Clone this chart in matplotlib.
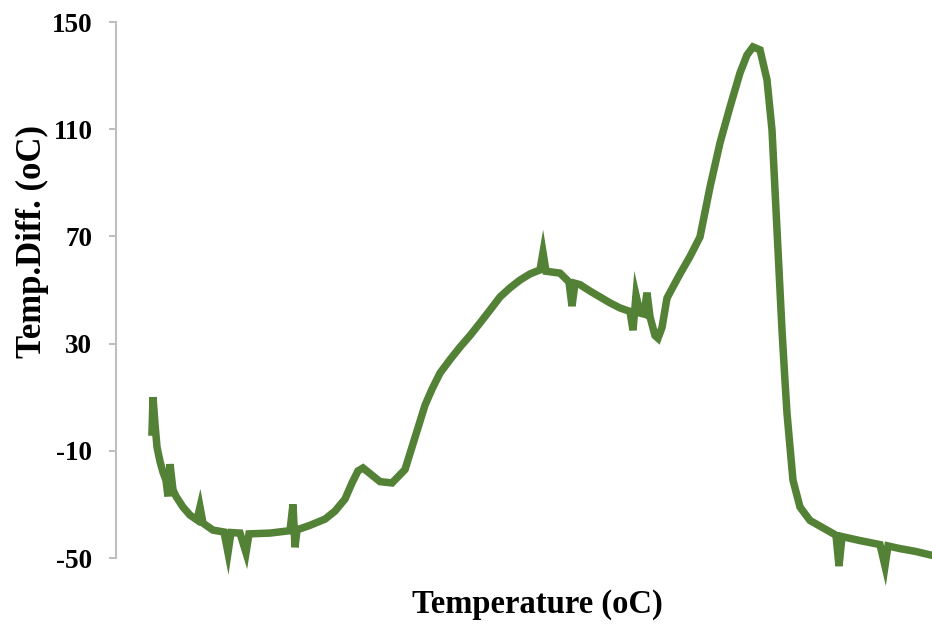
import matplotlib
matplotlib.use('Agg')
import matplotlib.pyplot as plt

plt.rcParams['axes.unicode_minus'] = False

# readings taken off the reference curve (x has no tick labels, so the scale is nominal)
temperature = [30, 30.5, 31.5, 32.5, 34, 35.5, 37, 38, 39, 40.5, 42, 45.5, 49, 52.5, 54,
               55.5, 60.5, 66, 68, 69.5, 74, 77, 78.5, 89, 99, 100.5, 101.5, 102.5, 109,
               116.5, 121.5, 126.5, 130, 133, 135.5, 139, 144, 150, 156.5, 159, 161.5,
               166.5, 170, 174, 179, 184, 189, 194, 199, 204, 209, 214, 219, 224, 225.5,
               227, 234, 238.5, 240, 241.5, 244, 249, 254, 259, 264, 269, 270.5, 272, 274,
               276, 277.5, 279, 281.5, 283, 285, 287.5, 294, 299, 304, 309, 314, 319, 324,
               327.5, 330.5, 334, 337.5, 340, 342.5, 345, 346.5, 347.5, 349, 350.5, 354,
               359, 367.5, 372, 373.5, 375, 384, 394, 396.5, 398, 404, 411.5, 420]
temp_diff = [-3, 10, 0, -8.6, -14, -18, -21, -27, -15, -24.6, -27, -31, -34, -35.8, -31,
             -37, -39.6, -40.3, -48, -40.5, -40.7, -48, -41, -40.7, -39.8, -30, -46, -39.5,
             -37.8, -35.5, -32.5, -28, -22, -17.5, -16.4, -18.5, -21.5, -22, -17, -11, -5,
             7, 13, 19, 24, 28.7, 33, 37.7, 42.5, 47.4, 50.8, 53.7, 56, 57.5, 64,
             57, 56.3, 53, 44, 52.5, 52, 49.6, 47.4, 45.2, 43.3, 42, 35, 48, 41.4,
             41, 49, 40, 33, 32, 36, 47, 56, 62.5, 69.8, 88.4, 104.9, 118.3, 131,
             137.7, 140.7, 139.6, 128.4, 109.7, 72.4, 35, 16, 4, -8.6, -21, -31,
             -36, -39.6, -41.5, -53, -42, -43.5, -45, -53, -45.5, -46.5, -47.5, -49]

y_ticks = [-50, -10, 30, 70, 110, 150]

fig = plt.figure(figsize=(9.32, 6.28), dpi=100)
ax = fig.add_axes([116 / 932, 1 - 558 / 628, 1 - 116 / 932, (558 - 22) / 628])

ax.plot(temperature, temp_diff, color='#538135', linewidth=5.4,
        solid_joinstyle='miter', clip_on=False)

ax.set_xlim(12, 420)
ax.set_ylim(-50, 150)
ax.set_yticks(y_ticks)
ax.set_xticks([])

for side in ['top', 'right', 'bottom']:
    ax.spines[side].set_visible(False)
ax.spines['left'].set_color('#bfbfbf')
ax.spines['left'].set_linewidth(1.5)
ax.tick_params(axis='y', length=5, width=1.5, color='#bfbfbf', pad=12)
for lbl in ax.get_yticklabels():
    lbl.set_fontfamily('Liberation Serif')
    lbl.set_fontweight('bold')
    lbl.set_fontsize(19.5)

fig.text(537 / 932, 1 - 605 / 628, 'Temperature (oC)', ha='center', va='center',
         fontfamily='Liberation Serif', fontweight='bold', fontsize=23.5)
fig.text(32 / 932, 1 - 242 / 628, 'Temp.Diff. (oC)', ha='center', va='center',
         rotation=90, fontfamily='Liberation Serif', fontweight='bold', fontsize=25)

fig.savefig('out.png', dpi=100)
